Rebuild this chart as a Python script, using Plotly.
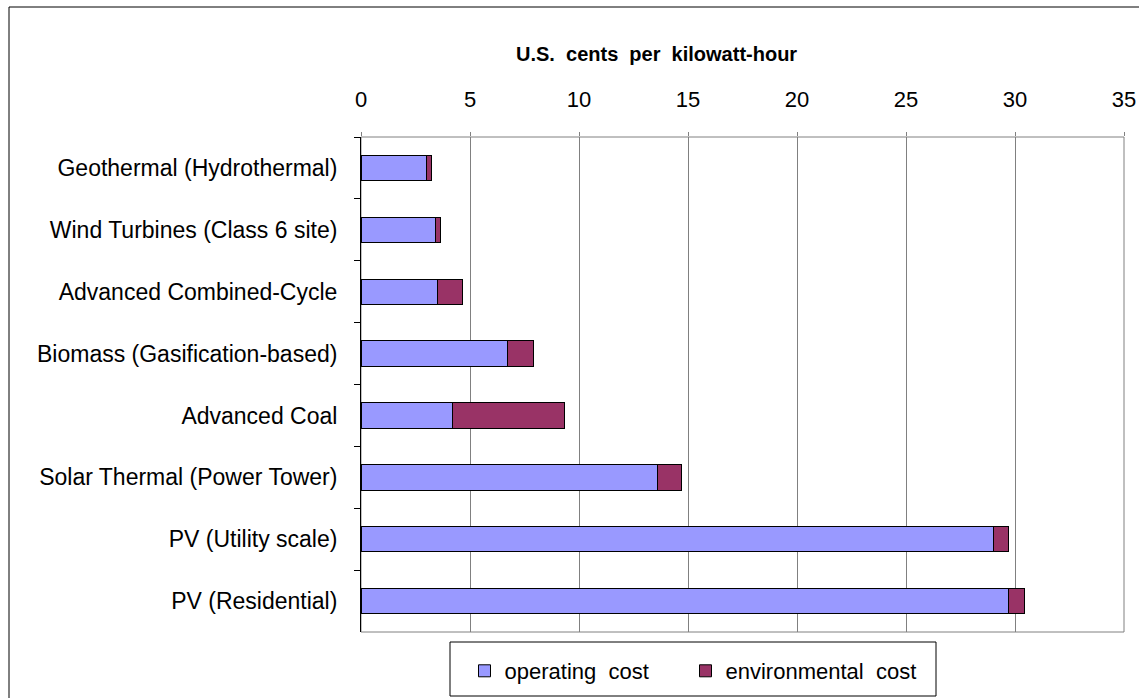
import plotly.graph_objects as go

categories = [
    "Geothermal (Hydrothermal)",
    "Wind Turbines (Class 6 site)",
    "Advanced Combined-Cycle",
    "Biomass (Gasification-based)",
    "Advanced Coal",
    "Solar Thermal (Power Tower)",
    "PV (Utility scale)",
    "PV (Residential)",
]
operating_cost = [3.0, 3.4, 3.5, 6.7, 4.2, 13.6, 29.0, 29.7]
environmental_cost = [0.25, 0.25, 1.15, 1.2, 5.15, 1.1, 0.7, 0.75]
x_ticks = [0, 5, 10, 15, 20, 25, 30, 35]

W, H = 1139, 698
L, R, T, B = 361, 1124, 137, 632  # plot area in pixels
pw, ph = R - L, B - T


def px(x):
    return (x - L) / pw


def py(y):
    return (B - y) / ph


FONT = "Liberation Sans, Arial, sans-serif"

fig = go.Figure()
fig.add_trace(go.Bar(
    y=categories, x=operating_cost, orientation="h", name="operating  cost",
    marker=dict(color="#9999FF", line=dict(color="#000000", width=1)),
    legend="legend",
))
fig.add_trace(go.Bar(
    y=categories, x=environmental_cost, orientation="h", name="environmental  cost",
    marker=dict(color="#993366", line=dict(color="#000000", width=1)),
    legend="legend2",
))

legend_common = dict(
    orientation="h", xanchor="left", yanchor="top",
    bgcolor="rgba(0,0,0,0)", borderwidth=0,
    font=dict(size=22, family=FONT, color="black"),
)

fig.update_layout(
    width=W, height=H,
    margin=dict(l=L, r=W - R, t=T, b=H - B, pad=0, autoexpand=False),
    barmode="stack", bargap=0.59,
    plot_bgcolor="white", paper_bgcolor="white",
    font=dict(family=FONT, color="black", size=22),
    showlegend=True,
    legend=dict(x=px(464.5), y=py(650), **legend_common),
    legend2=dict(x=px(685.5), y=py(650), **legend_common),
    xaxis=dict(
        side="top", range=[0, 35], tickvals=x_ticks,
        showgrid=True, gridcolor="#808080", gridwidth=1,
        ticks="outside", ticklen=4, tickcolor="#808080",
        showline=False, zeroline=False,
        tickfont=dict(size=22, family=FONT), ticklabelstandoff=16,
    ),
    yaxis=dict(
        categoryorder="array", categoryarray=categories, autorange="reversed",
        showline=True, linecolor="black", linewidth=1,
        ticks="outside", ticklen=6, tickcolor="black", tickson="boundaries",
        showgrid=False, zeroline=False,
        tickfont=dict(size=23, family=FONT), ticklabelstandoff=18,
    ),
    shapes=[
        dict(type="rect", xref="paper", yref="paper", x0=0, x1=1, y0=0, y1=1,
             line=dict(color="#808080", width=1), layer="below"),
        dict(type="rect", xref="paper", yref="paper",
             x0=px(9), x1=px(1160), y0=py(720), y1=py(7),
             line=dict(color="black", width=1), fillcolor="rgba(0,0,0,0)"),
        dict(type="rect", xref="paper", yref="paper",
             x0=px(450), x1=px(936), y0=py(696), y1=py(642),
             line=dict(color="black", width=1), fillcolor="white", layer="below"),
    ],
    annotations=[
        dict(text="<b>U.S.  cents  per  kilowatt-hour</b>", xref="paper", yref="paper",
             x=px(656), y=py(54), xanchor="center", yanchor="middle",
             showarrow=False, font=dict(size=20, family=FONT, color="black")),
    ],
)

fig.write_html("out.html", config={"displayModeBar": False},
               post_script="document.body.style.margin='0';")
